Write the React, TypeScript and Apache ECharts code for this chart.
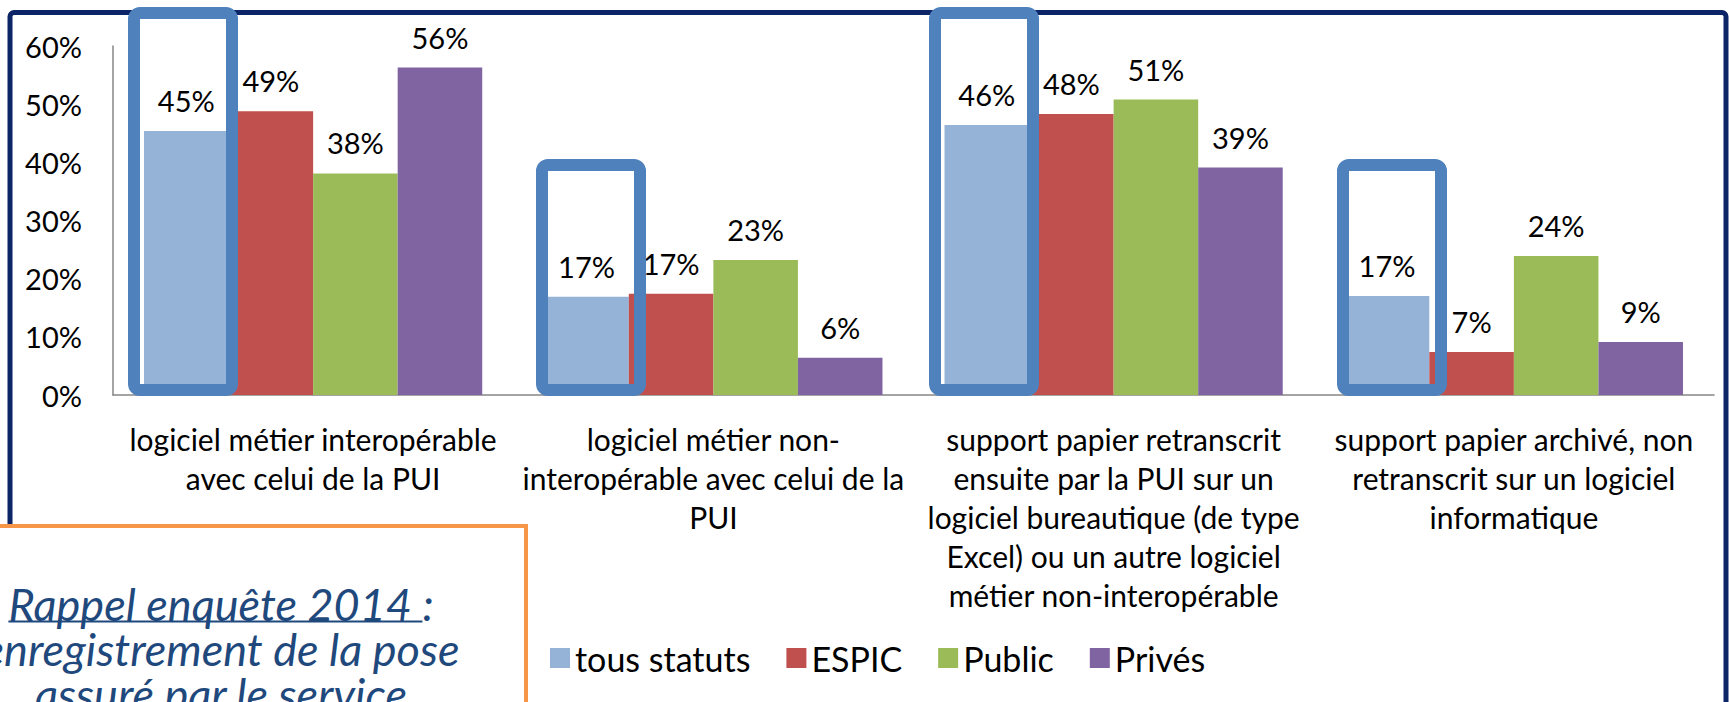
import React, { useEffect, useRef } from "react";
import * as echarts from "echarts";

const categories = [
  "logiciel métier interopérable\navec celui de la PUI",
  "logiciel métier non-\ninteropérable avec celui de la\nPUI",
  "support papier retranscrit\nensuite par la PUI sur un\nlogiciel bureautique (de type\nExcel) ou un autre logiciel\nmétier non-interopérable",
  "support papier archivé, non\nretranscrit sur un logiciel\ninformatique",
];
const seriesNames = ["tous statuts", "ESPIC", "Public", "Privés"];
const tousStatuts = [45.4, 16.9, 46.4, 17.0];
const espic = [48.8, 17.4, 48.3, 7.4];
const publicVals = [38.1, 23.2, 50.8, 23.9];
const prives = [56.3, 6.4, 39.1, 9.1];
const seriesColors = ["#95B3D7", "#C0504D", "#9BBB59", "#8064A2"];
const noteLines = ["Rappel enquête 2014 :", "enregistrement de la pose", "assuré par le service"];
const noteUnderlined = "Rappel enquête 2014 ";

const FONT = "Lato, 'Open Sans', sans-serif";

export default function App() {
  const ref = useRef<HTMLDivElement>(null);
  useEffect(() => {
    if (!ref.current) return;
    const chart = echarts.init(ref.current, null, { renderer: "svg" });
    const seriesData = [tousStatuts, espic, publicVals, prives];

    const noteFont = `italic 45px Lato`;
    let wFull = 420, wPart = 410;
    try {
      const ctx = document.createElement("canvas").getContext("2d");
      if (ctx) {
        ctx.font = noteFont;
        wFull = ctx.measureText(noteLines[0]).width;
        wPart = ctx.measureText(noteUnderlined).width;
      }
    } catch (e) {}
    const noteCx = 221;
    const noteLH = 45;
    const noteTop = 581;
    const ulLeft = noteCx - wFull / 2;
    const ulY = noteTop + noteLH / 2 + 18;

    const boxes = [
      { x: 134, y: 13, w: 98, h: 377 },
      { x: 542, y: 165, w: 98, h: 225 },
      { x: 935, y: 13, w: 98, h: 377 },
      { x: 1343, y: 165, w: 98, h: 225 },
    ];

    chart.setOption({
      animation: false,
      backgroundColor: "#ffffff",
      textStyle: { fontFamily: FONT },
      grid: { left: 113, right: 15, top: 46, bottom: 307, containLabel: false },
      legend: {
        data: seriesNames,
        left: 545,
        top: 636,
        icon: "rect",
        itemWidth: 20,
        itemHeight: 20,
        itemGap: 36,
        textStyle: { fontSize: 34, color: "#000", fontFamily: FONT },
      },
      xAxis: {
        type: "category",
        data: categories,
        axisLine: { show: true, lineStyle: { color: "#868686", width: 1.5 } },
        axisTick: { show: false },
        axisLabel: {
          interval: 0,
          margin: 24,
          fontSize: 30,
          lineHeight: 39,
          color: "#000",
          fontFamily: FONT,
        },
      },
      yAxis: {
        type: "value",
        min: 0,
        max: 60,
        interval: 10,
        axisLine: { show: true, lineStyle: { color: "#868686", width: 1.5 } },
        axisTick: { show: false },
        splitLine: { show: false },
        axisLabel: {
          formatter: "{value}%",
          fontSize: 29,
          margin: 31,
          color: "#000",
          fontFamily: FONT,
        },
      },
      series: seriesNames.map((name, i) => ({
        name,
        type: "bar",
        data: seriesData[i],
        barGap: "0%",
        barCategoryGap: "15.5%",
        itemStyle: { color: seriesColors[i] },
        label: {
          show: true,
          position: "top",
          distance: 16,
          fontSize: 29,
          color: "#000",
          fontFamily: FONT,
          formatter: (p: any) => Math.round(p.value) + "%",
        },
      })),
      graphic: [
        {
          type: "rect",
          z: 100,
          silent: true,
          shape: { x: 10, y: 12.5, width: 1716, height: 800, r: 4 },
          style: { fill: "none", stroke: "#0B2566", lineWidth: 5 },
        },
        ...boxes.map((b) => ({
          type: "rect",
          z: 110,
          silent: true,
          shape: { x: b.x, y: b.y, width: b.w, height: b.h, r: 6 },
          style: { fill: "none", stroke: "#4F81BD", lineWidth: 12 },
        })),
        {
          type: "rect",
          z: 120,
          silent: true,
          shape: { x: -20, y: 526, width: 546, height: 300 },
          style: { fill: "#ffffff", stroke: "#F79646", lineWidth: 4 },
        },
        {
          type: "text",
          z: 130,
          silent: true,
          x: noteCx,
          y: noteTop,
          style: {
            text: noteLines.join("\n"),
            font: noteFont,
            lineHeight: noteLH,
            fill: "#1F497D",
            align: "center",
            verticalAlign: "top",
            textAlign: "center",
            textVerticalAlign: "top",
          },
        },
        {
          type: "line",
          z: 130,
          silent: true,
          shape: { x1: ulLeft, y1: ulY, x2: ulLeft + wPart, y2: ulY },
          style: { stroke: "#1F497D", lineWidth: 2 },
        },
      ],
    });
    return () => chart.dispose();
  }, []);
  return (
    <div
      ref={ref}
      style={{ position: "fixed", left: 0, top: 0, width: 1729, height: 702, background: "#fff" }}
    />
  );
}
